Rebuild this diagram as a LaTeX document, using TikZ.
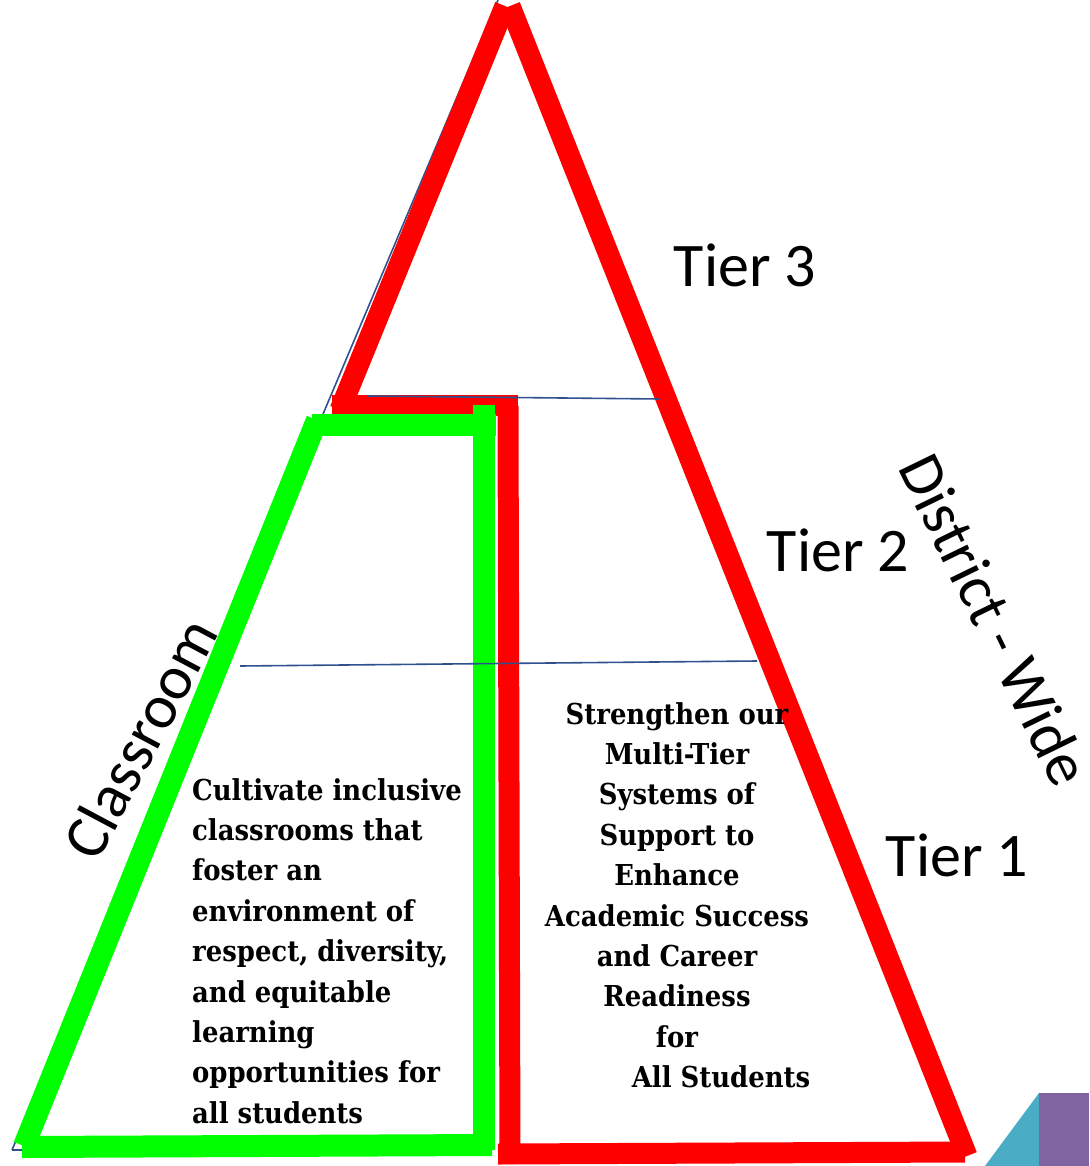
\documentclass[tikz,border=0pt]{standalone}
\usepackage{fontspec}
\setmainfont{Carlito}
\newfontfamily\goalfont{DejaVu Serif Condensed}
\definecolor{pyrred}{HTML}{FF0000}
\definecolor{pyrgreen}{HTML}{00FF00}
\definecolor{pyrblue}{HTML}{2F528F}
\definecolor{cornerteal}{HTML}{4BACC6}
\definecolor{cornerpurple}{HTML}{8064A2}
\tikzset{
  redbar/.style={draw=pyrred, line width=21pt},
  greenbar/.style={draw=pyrgreen, line width=22pt},
  tierline/.style={draw=pyrblue, line width=1.6pt},
  tierlabel/.style={font=\fontsize{62}{74}\selectfont, inner sep=0pt},
  goaltext/.style={font=\goalfont\bfseries\fontsize{28.8}{40.4}\selectfont, inner sep=0pt}
}
\begin{document}
\begin{tikzpicture}[x=1pt,y=-1pt]
\useasboundingbox (0,0) rectangle (1089,1166);

% old pyramid edge
\draw[tierline] (12,1150) -- (498,0) (12,1150) -- (40,1150);

\scope % district-wide
\draw[redbar] (340,410) -- (505,6);
\draw[redbar] (510,6) -- (967,1156);
\draw[redbar] (498,1154) -- (965,1152);
\draw[redbar] (508,406) -- (510,1164);
\draw[redbar] (332,405) -- (518,405);
\endscope

\scope % classroom
\draw[greenbar] (24,1146) -- (317,420);
\draw[greenbar] (312,425) -- (496,425);
\draw[greenbar] (484,405) -- (484,1150);
\draw[greenbar] (22,1147) -- (492,1145);
\endscope

% tier lines
\draw[tierline] (368,396) -- (660,399);
\draw[tierline] (240,666) -- (757,661);

% corner
\fill[cornerteal] (985,1166) -- (1039,1093) -- (1039,1166) -- cycle;
\fill[cornerpurple] (1039,1093) rectangle (1089,1166);

% labels
\node[tierlabel] (tier3) at (745,265) {Tier 3};
\node[tierlabel] (tier2) at (838,550) {Tier 2};
\node[tierlabel] (tier1) at (957,855) {Tier 1};
\node[tierlabel, rotate=-64] (district) at (995,620) {District - Wide};
\node[tierlabel, rotate=62] (classroom) at (140,738) {Classroom};

\node[goaltext, anchor=north west, align=left] (classgoal) at (192,778)
  {Cultivate inclusive\\classrooms that\\foster an\\environment of\\respect, diversity,\\and equitable\\learning\\opportunities for\\all students};
\node[goaltext, anchor=north, align=center] (districtgoal) at (677,702)
  {Strengthen our\\Multi-Tier\\Systems of\\Support to\\Enhance\\Academic Success\\and Career\\Readiness\\for\\\hspace*{88pt}All Students};
\end{tikzpicture}
\end{document}
